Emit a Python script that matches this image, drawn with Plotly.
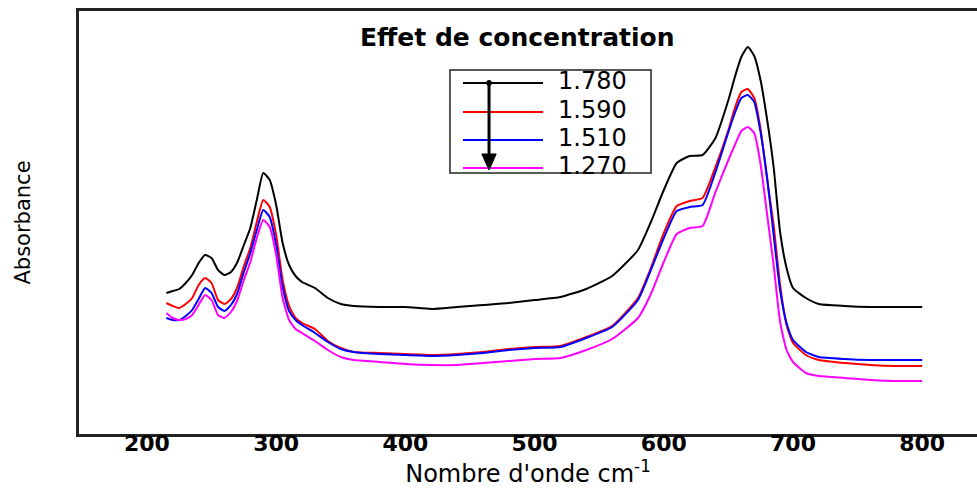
import plotly.graph_objects as go

# Wavenumber grid (cm^-1)
wavenumber = [215, 220, 225, 230, 235, 240, 245, 250, 255, 260, 265, 270, 275, 280, 285,
              290, 295, 300, 305, 310, 315, 320, 330, 340, 350, 360, 380, 400, 420, 440,
              460, 480, 500, 520, 540, 560, 580, 590, 600, 610, 620, 630, 640, 650, 655,
              660, 665, 670, 675, 680, 685, 690, 695, 700, 710, 720, 740, 760, 780, 800]

# Absorbance spectra for each concentration
abs_1780 = [0.564, 0.572, 0.580, 0.604, 0.636, 0.684, 0.716, 0.704, 0.656, 0.636, 0.648, 0.688,
            0.756, 0.824, 0.936, 1.044, 1.016, 0.916, 0.764, 0.676, 0.632, 0.608, 0.584, 0.544,
            0.520, 0.512, 0.508, 0.508, 0.500, 0.508, 0.516, 0.524, 0.536, 0.548, 0.580, 0.632,
            0.736, 0.848, 0.976, 1.084, 1.112, 1.116, 1.184, 1.336, 1.428, 1.508, 1.548, 1.512,
            1.412, 1.256, 1.068, 0.808, 0.664, 0.584, 0.544, 0.520, 0.512, 0.508, 0.508, 0.508]

abs_1590 = [0.524, 0.512, 0.504, 0.520, 0.544, 0.596, 0.624, 0.604, 0.536, 0.520, 0.540, 0.588,
            0.672, 0.744, 0.848, 0.936, 0.908, 0.796, 0.616, 0.512, 0.464, 0.444, 0.420, 0.372,
            0.344, 0.328, 0.324, 0.320, 0.316, 0.320, 0.328, 0.340, 0.348, 0.352, 0.388, 0.432,
            0.544, 0.664, 0.804, 0.912, 0.932, 0.944, 1.068, 1.216, 1.304, 1.368, 1.380, 1.344,
            1.216, 1.016, 0.836, 0.596, 0.436, 0.364, 0.316, 0.296, 0.284, 0.276, 0.272, 0.272]

abs_1510 = [0.464, 0.456, 0.456, 0.472, 0.496, 0.540, 0.584, 0.564, 0.508, 0.492, 0.516, 0.564,
            0.648, 0.724, 0.816, 0.896, 0.868, 0.756, 0.588, 0.492, 0.456, 0.436, 0.404, 0.368,
            0.340, 0.328, 0.320, 0.316, 0.312, 0.316, 0.324, 0.336, 0.344, 0.348, 0.384, 0.428,
            0.536, 0.656, 0.784, 0.892, 0.908, 0.916, 1.048, 1.208, 1.284, 1.344, 1.356, 1.328,
            1.204, 1.024, 0.796, 0.576, 0.444, 0.376, 0.328, 0.308, 0.300, 0.296, 0.296, 0.296]

abs_1270 = [0.484, 0.464, 0.456, 0.460, 0.476, 0.516, 0.556, 0.536, 0.476, 0.464, 0.488, 0.536,
            0.616, 0.688, 0.784, 0.856, 0.828, 0.716, 0.544, 0.456, 0.420, 0.404, 0.372, 0.336,
            0.308, 0.296, 0.288, 0.280, 0.276, 0.276, 0.284, 0.292, 0.300, 0.304, 0.336, 0.380,
            0.464, 0.560, 0.688, 0.800, 0.824, 0.832, 0.968, 1.096, 1.156, 1.212, 1.228, 1.204,
            1.076, 0.876, 0.676, 0.448, 0.336, 0.288, 0.244, 0.232, 0.224, 0.216, 0.212, 0.212]

series_names = ["1.780", "1.590", "1.510", "1.270"]
series_values = [abs_1780, abs_1590, abs_1510, abs_1270]
series_colors = ["#000000", "#ff0000", "#0000ff", "#ff00ff"]

x_tick_values = [200, 300, 400, 500, 600, 700, 800]

fig = go.Figure()
for name, values, color in zip(series_names, series_values, series_colors):
    fig.add_trace(go.Scatter(
        x=wavenumber, y=values, mode="lines", name=name, showlegend=False,
        line=dict(color=color, width=2, shape="spline", smoothing=0.5),
    ))

# Hand-built legend box with long line samples
legend_x0, legend_x1 = 0.4131, 0.6370
legend_y0, legend_y1 = 0.6170, 0.8605
row_y = [0.8298, 0.7612, 0.6950, 0.6288]
shapes = [dict(type="rect", xref="paper", yref="paper",
               x0=legend_x0, x1=legend_x1, y0=legend_y0, y1=legend_y1,
               line=dict(color="#222222", width=1.5), fillcolor="white", layer="above")]
annotations = []
for name, color, ry in zip(series_names, series_colors, row_y):
    shapes.append(dict(type="line", xref="paper", yref="paper",
                       x0=0.4276, x1=0.5167, y0=ry, y1=ry,
                       line=dict(color=color, width=2), layer="above"))
    annotations.append(dict(xref="paper", yref="paper", x=0.5312, y=ry + 0.004,
                            xanchor="left", yanchor="middle", text=name, showarrow=False,
                            font=dict(family="DejaVu Sans", size=24, color="black")))

# Downward arrow across the legend (decreasing concentration)
arrow_x = 0.4566
shapes.append(dict(type="line", xref="paper", yref="paper",
                   x0=arrow_x, x1=arrow_x, y0=0.8298, y1=0.655,
                   line=dict(color="black", width=3), layer="above"))
shapes.append(dict(type="path", xref="paper", yref="paper",
                   path=f"M {arrow_x - 0.0080} 0.6620 L {arrow_x + 0.0080} 0.6620 "
                        f"L {arrow_x} 0.6241 Z",
                   fillcolor="black", line=dict(color="black", width=1), layer="above"))
shapes.append(dict(type="circle", xref="paper", yref="paper",
                   x0=arrow_x - 0.0030, x1=arrow_x + 0.0030, y0=0.8230, y1=0.8366,
                   fillcolor="black", line=dict(color="black", width=0), layer="above"))

annotations.append(dict(xref="paper", yref="paper", x=0.4878, y=0.9385,
                        xanchor="center", yanchor="middle",
                        text="Effet de concentration", showarrow=False,
                        font=dict(family="DejaVu Sans", size=25, color="black", weight="bold")))

fig.update_layout(
    width=977, height=489,
    margin=dict(l=79, r=0, t=11, b=55),
    paper_bgcolor="white", plot_bgcolor="white",
    shapes=shapes, annotations=annotations,
    xaxis=dict(
        range=[147.4, 842.4], tickvals=x_tick_values, ticks="",
        ticklabelstandoff=-12,
        showgrid=False, zeroline=False,
        showline=True, linecolor="#222222", linewidth=2.5, mirror=True,
        tickfont=dict(family="DejaVu Sans", size=22, color="black", weight="bold"),
        title=dict(text="Nombre d'onde cm<sup>-1</sup>", standoff=2,
                   font=dict(family="DejaVu Sans", size=24, color="black")),
    ),
    yaxis=dict(
        range=[0, 1.692], showticklabels=False, ticks="",
        showgrid=False, zeroline=False,
        showline=True, linecolor="#222222", linewidth=3,
        title=dict(text="Absorbance", standoff=40,
                   font=dict(family="DejaVu Sans", size=21, color="black")),
    ),
)

fig.write_html("out.html")
